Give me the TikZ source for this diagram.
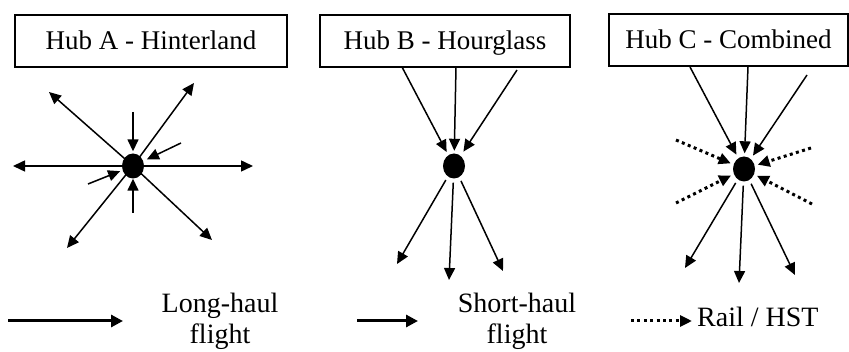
\documentclass[tikz,border=0pt]{standalone}
\usepackage{fontspec}
\setmainfont{Liberation Serif}
\usetikzlibrary{arrows.meta,shapes.geometric}
\begin{document}
\begin{tikzpicture}[x=1pt,y=-1pt,
  flow/.style={line width=1.5pt,-{Triangle[length=12pt,width=11pt]}},
  railflow/.style={line width=3pt,dash pattern=on 3pt off 3.4pt,-{Triangle[length=12pt,width=11pt]}},
  legendflow/.style={line width=3pt,-{Triangle[length=12pt,width=12pt]}},
  hub/.style={ellipse,fill=black,minimum width=22pt,minimum height=25pt,inner sep=0pt},
  titlebox/.style={draw,line width=1.3pt,minimum height=52pt,inner sep=0pt,
    text height=18pt,text depth=0pt,font=\fontsize{27}{30}\selectfont},
  legendtext/.style={align=center,font=\fontsize{28}{31}\selectfont}
]
\useasboundingbox (0,0) rectangle (849,352);
\clip (0,0) rectangle (849,352);

% title boxes
\node[titlebox,minimum width=272pt] (boxA) at (151,41) {Hub A - Hinterland};
\node[titlebox,minimum width=250pt] (boxB) at (445,41) {Hub B - Hourglass};
\node[titlebox,minimum width=239pt] (boxC) at (728.5,40) {Hub C - Combined};

% ---------- Hub A ----------
\node[hub] (hA) at (133,166) {};
\coordinate (aW) at (13,166);
\coordinate (aE) at (253,166);
\coordinate (aNW) at (49,92);
\coordinate (aNE) at (194,83);
\coordinate (aSW) at (67,248);
\coordinate (aSE) at (212,240);
\foreach \c in {aW,aE,aNW,aNE,aSW,aSE}
  \draw[flow] (hA.center) -- (\c);
\coordinate (aT) at (133,112);
\coordinate (aB) at (133,213);
\coordinate (aR) at (181,143);
\coordinate (aL) at (88,184);
\draw[flow,shorten >=2pt] (aT) -- (hA);
\draw[flow] (aB) -- (hA);
\draw[flow,shorten >=4pt] (aR) -- (hA);
\draw[flow,shorten >=2.5pt] (aL) -- (hA);

% ---------- Hub B ----------
\node[hub] (hB) at (454,166) {};
\coordinate (bi1) at (402,67);
\coordinate (bi2) at (456,67);
\coordinate (bi3) at (517,70);
\coordinate (bo1) at (397,264);
\coordinate (bo2) at (449,280);
\coordinate (bo3) at (503,271);
\draw[flow,shorten >=3.5pt] (bi1) -- (hB);
\draw[flow,shorten >=2.5pt] (bi2) -- (hB);
\draw[flow,shorten >=5pt] (bi3) -- (hB);
\foreach \c in {bo1,bo2,bo3}
  \draw[flow,shorten <=4pt] (hB) -- (\c);

% ---------- Hub C ----------
\node[hub] (hC) at (744,169) {};
\coordinate (ci1) at (690,67);
\coordinate (ci2) at (748,67);
\coordinate (ci3) at (807,75);
\coordinate (cd1) at (676,140);
\coordinate (cd2) at (676,203);
\coordinate (cd3) at (811,148);
\coordinate (cd4) at (812,204);
\coordinate (co1) at (685,268);
\coordinate (co2) at (739,283);
\coordinate (co3) at (795,275);
\draw[flow,shorten >=4pt] (ci1) -- (hC);
\draw[flow,shorten >=3pt] (ci2) -- (hC);
\draw[flow,shorten >=4pt] (ci3) -- (hC);
\foreach \c in {cd1,cd2,cd3,cd4}
  \draw[railflow,shorten >=3pt] (\c) -- (hC);
\foreach \c in {co1,co2,co3}
  \draw[flow,shorten <=4pt] (hC) -- (\c);

% ---------- Legend ----------
\coordinate (l1s) at (8,321);
\coordinate (l1e) at (123,321);
\draw[legendflow] (l1s) -- (l1e);
\node[legendtext] (lt1) at (220,321) {Long-haul\\flight};

\coordinate (l2s) at (357,321);
\coordinate (l2e) at (418,321);
\draw[legendflow] (l2s) -- (l2e);
\node[legendtext] (lt2) at (517,321) {Short-haul\\flight};

\coordinate (l3s) at (631,321);
\coordinate (l3e) at (692,321);
\draw[railflow] (l3s) -- (l3e);
\node[anchor=base west,inner sep=0pt,font=\fontsize{28}{31}\selectfont] (lt3) at (697,327) {Rail / HST};
\end{tikzpicture}
\end{document}
